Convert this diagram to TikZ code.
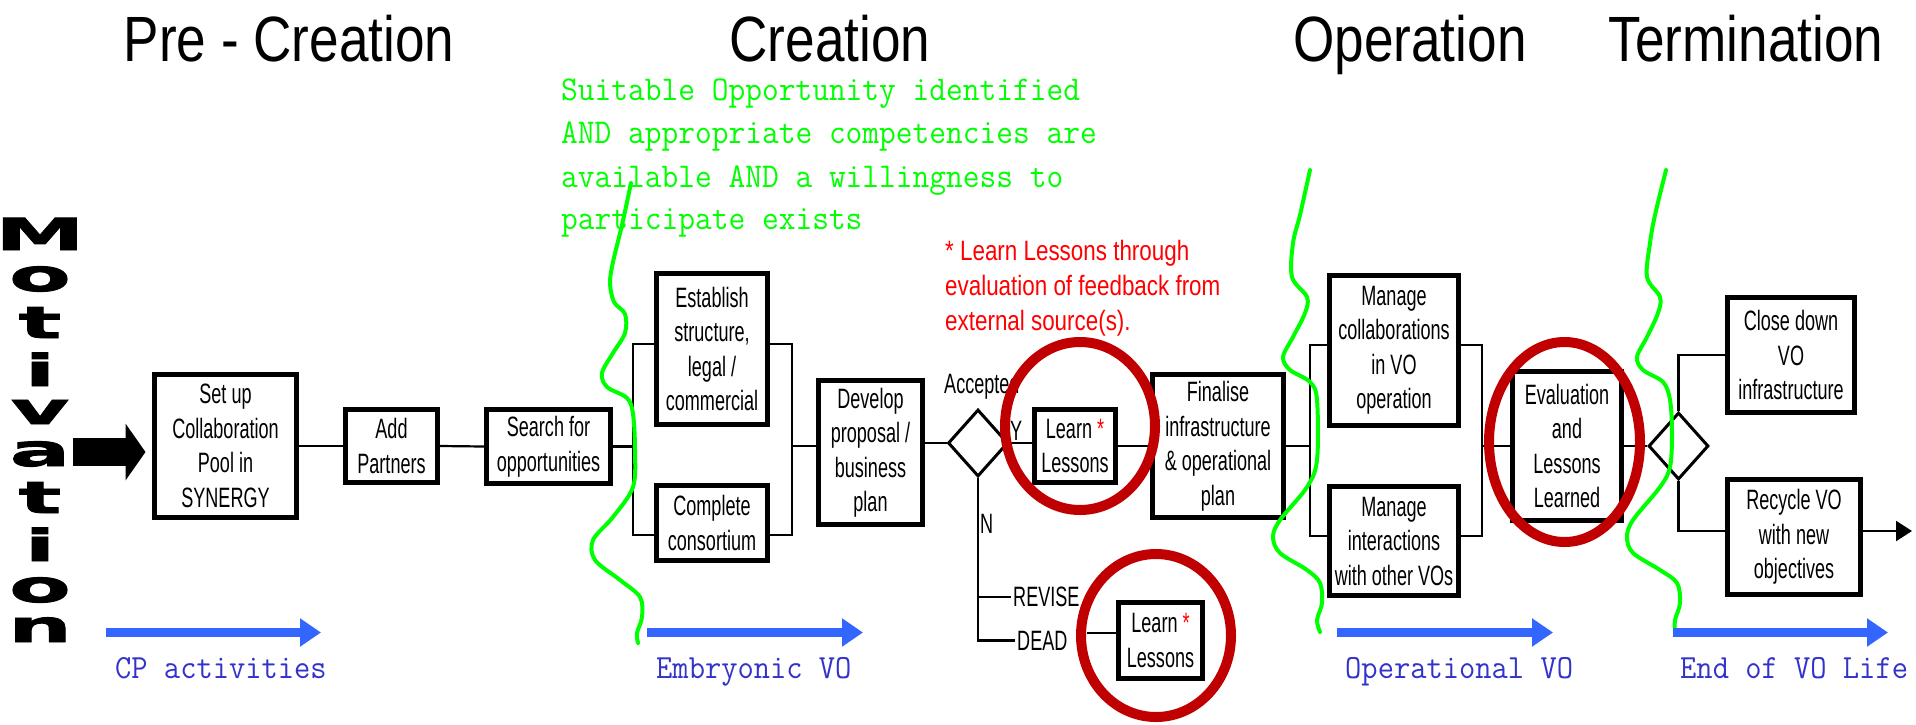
\documentclass[tikz,border=0pt]{standalone}
\usepackage{fontspec}
\usepackage{graphicx}
\usetikzlibrary{arrows.meta,shapes.geometric}

\newfontfamily\boxfont{Liberation Sans}[FakeStretch=0.645]
\newfontfamily\headfont{Liberation Sans}[FakeStretch=0.83]
\newfontfamily\notefont{Liberation Sans}[FakeStretch=0.80]
\newfontfamily\motfont{DejaVu Sans}[FakeStretch=2.05, BoldFeatures={FakeBold=2}]

\definecolor{ringred}{RGB}{192,0,0}
\definecolor{phasegreen}{RGB}{0,255,0}
\definecolor{arrowblue}{RGB}{51,102,255}
\definecolor{labelblue}{RGB}{51,51,204}

\newcommand{\tallmono}[1]{\scalebox{1}[1.07]{#1}}

\tikzset{
  stage/.style={draw, line width=5pt, inner sep=0pt, align=center,
    font=\boxfont\fontsize{28}{34.5}\selectfont},
  lbl/.style={inner sep=2pt, font=\boxfont\fontsize{28}{34.5}\selectfont},
  head/.style={inner sep=0pt, font=\headfont\fontsize{64}{70}\selectfont},
  note/.style={inner sep=0pt, text=red, font=\notefont\fontsize{28}{35}\selectfont},
  cond/.style={inner sep=0pt, text=phasegreen, font=\ttfamily\fontsize{32.5}{43}\selectfont},
  phaselbl/.style={inner sep=0pt, text=labelblue, font=\ttfamily\fontsize{31.6}{43}\selectfont},
  motletter/.style={inner sep=0pt, anchor=base, font=\motfont\bfseries\fontsize{44}{44}\selectfont},
  link/.style={line width=2.2pt},
  gate/.style={draw, diamond, line width=3pt, inner sep=0pt, minimum width=60pt, minimum height=67pt},
  ring/.style={draw=ringred, line width=10pt, ellipse, inner sep=0pt},
  divider/.style={draw=phasegreen, line width=4pt, line cap=round, line join=round},
  phasearrow/.style={draw=arrowblue, line width=9pt, -{Triangle[length=21pt,width=27pt]}},
}

\begin{document}
\begin{tikzpicture}[x=1pt, y=-1pt]
\fill[white] (0,0) rectangle (1916,724);
\useasboundingbox (0,0) rectangle (1916,724);

% phase titles
\node[head, anchor=base] (tpre) at (289,61) {Pre - Creation};
\node[head, anchor=base] (tcre) at (830,61) {Creation};
\node[head, anchor=base] (tope) at (1410,61) {Operation};
\node[head, anchor=base] (tter) at (1746,61) {Termination};

% entry condition
\node[cond, anchor=base west] (cond1) at (561,100) {\tallmono{Suitable Opportunity identified}};
\node[cond, anchor=base west] (cond2) at (561,143) {\tallmono{AND appropriate competencies are}};
\node[cond, anchor=base west] (cond3) at (561,187) {\tallmono{available AND a willingness to}};
\node[cond, anchor=base west] (cond4) at (561,229) {\tallmono{participate exists}};

% footnote on lessons learned
\node[note, anchor=base west] (note1) at (945,260) {* Learn Lessons through};
\node[note, anchor=base west] (note2) at (945,295) {evaluation of feedback from};
\node[note, anchor=base west] (note3) at (945,330) {external source(s).};

% vertical "Motivation"
\node[motletter] (m1) at (40,250) {M};
\node[motletter] (m2) at (40,291) {o};
\node[motletter] (m3) at (40,338) {t};
\node[motletter] (m4) at (40,386) {i};
\node[motletter] (m5) at (40,424) {v};
\node[motletter] (m6) at (40,466) {a};
\node[motletter] (m7) at (40,513) {t};
\node[motletter] (m8) at (40,561) {i};
\node[motletter] (m9) at (40,602) {o};
\node[motletter] (m10) at (40,642) {n};

% process steps
\node[stage, minimum width=142pt, minimum height=143pt] (setup) at (225.5,446) {Set up\\Collaboration\\Pool in\\SYNERGY};
\node[stage, minimum width=92pt, minimum height=73pt] (add) at (391.5,446) {Add\\Partners};
\node[stage, minimum width=124pt, minimum height=74pt] (search) at (548.5,446.5) {Search for\\opportunities};
\node[stage, minimum width=111pt, minimum height=151pt] (establish) at (712,349) {Establish\\structure,\\legal /\\commercial};
\node[stage, minimum width=111pt, minimum height=75pt] (complete) at (712,523) {Complete\\consortium};
\node[stage, minimum width=104pt, minimum height=144pt] (develop) at (870.5,452.5) {Develop\\proposal /\\business\\plan};
\node[gate] (d1) at (978,443) {};
\node[stage, minimum width=81pt, minimum height=73pt] (learn1) at (1075,446) {Learn {\color{red}*}\\Lessons};
\node[stage, minimum width=84pt, minimum height=76pt] (learn2) at (1160.5,640.5) {Learn {\color{red}*}\\Lessons};
\node[stage, minimum width=131pt, minimum height=143pt] (finalise) at (1218,446) {Finalise\\infrastructure\\\& operational\\plan};
\node[stage, minimum width=129pt, minimum height=150pt] (mcollab) at (1394,350.5) {Manage\\collaborations\\in VO\\operation};
\node[stage, minimum width=129pt, minimum height=109pt] (minter) at (1394,541) {Manage\\interactions\\with other VOs};
\node[stage, minimum width=109pt, minimum height=149pt] (evaluation) at (1567,446) {Evaluation\\and\\Lessons\\Learned};
\node[gate] (d2) at (1678.5,446) {};
\node[stage, minimum width=127pt, minimum height=115pt] (close) at (1791,355) {Close down\\VO\\infrastructure};
\node[stage, minimum width=133pt, minimum height=115pt] (recycle) at (1794,537) {Recycle VO\\with new\\objectives};

% decision labels
\node[lbl, anchor=base west, inner sep=0pt] (acc) at (944,393) {Accepted};
\node[lbl, anchor=base west, inner sep=0pt] (ylbl) at (1010,440) {Y};
\node[lbl, anchor=base west, inner sep=0pt] (nlbl) at (980,533) {N};
\node[lbl, anchor=west] (revise) at (1011,597) {REVISE};
\node[lbl, anchor=west] (dead) at (1015,640.5) {DEAD};

% junction points of the parallel branches
\coordinate (jA) at (633,446);  \coordinate (jAt) at (633,344);  \coordinate (jAb) at (633,535);
\coordinate (jB) at (792,446);  \coordinate (jBt) at (792,344);  \coordinate (jBb) at (792,535);
\coordinate (jC) at (1310,446); \coordinate (jCt) at (1310,345); \coordinate (jCb) at (1310,536);
\coordinate (jD) at (1482,446); \coordinate (jDt) at (1482,345); \coordinate (jDb) at (1482,536);
\coordinate (deadlink) at (1087,633);
\coordinate (exit) at (1912,531);
\coordinate (motstart) at (73,452);

% connectors
\draw[line width=28pt, -{Triangle[length=20pt,width=56pt]}, shorten >=6.5pt] (motstart) -- (motstart -| setup.west);
\draw[link] (setup.east) -- (add.west);
\draw[link] (add.east) -- (search.west);
\draw[link] (search.east) -- (search.east -| jA);
\draw[link] (establish.west |- jAt) -- (jAt) -- (jAb) -- (complete.west |- jAb);
\draw[link] (establish.east |- jBt) -- (jBt) -- (jBb) -- (complete.east |- jBb);
\draw[link] (jB) -- (jB -| develop.west);
\draw[link] (develop.east |- d1.west) -- (d1.west);
\draw[link] (d1.east) -- (d1.east -| learn1.west);
\draw[link] (learn1.east) -- (finalise.west);
\draw[link] (d1.south) |- (revise.west);
\draw[link] (d1.south) |- (dead.west);
\draw[link] (deadlink) -- (deadlink -| learn2.west);
\draw[link] (finalise.east) -- (finalise.east -| jC);
\draw[link] (mcollab.west |- jCt) -- (jCt) -- (jCb) -- (minter.west |- jCb);
\draw[link] (mcollab.east |- jDt) -- (jDt) -- (jDb) -- (minter.east |- jDb);
\draw[link] (jD) -- (jD -| evaluation.west);
\draw[link] (evaluation.east) -- (d2.west);
\draw[link] (d2.north) |- (close.west);
\draw[link] (d2.south) |- ([yshift=6pt]recycle.west);
\draw[link, -{Triangle[length=16pt,width=20pt]}] ([yshift=6pt]recycle.east) -- (exit);

% highlighted lessons-learned steps
\node[ring, minimum width=150pt, minimum height=168pt] (ring1) at (1080,426) {};
\node[ring, minimum width=150pt, minimum height=163pt] (ring2) at (1156,635.5) {};
\node[ring, minimum width=151pt, minimum height=200pt] (ring3) at (1564.5,442) {};

% phase boundaries
\draw[divider] plot[smooth, tension=0.55] coordinates {(631,183) (622,225) (613,262) (610,283) (614,302) (625,314) (625,333) (613,353) (602,373) (607,387) (627,398) (633,414) (635,450) (633,487) (613,517) (593,540) (595,560) (620,580) (640,597) (642,617) (637,633) (638,643)};
\draw[divider] plot[smooth, tension=0.55] coordinates {(1310,170) (1300,215) (1293,243) (1292,277) (1307,297) (1305,313) (1293,337) (1283,357) (1290,370) (1310,382) (1317,400) (1317,460) (1307,487) (1280,520) (1273,537) (1280,553) (1307,570) (1320,583) (1322,603) (1317,620) (1320,632)};
\draw[divider] plot[smooth, tension=0.55] coordinates {(1666,170) (1655,215) (1650,243) (1647,277) (1660,297) (1658,313) (1647,337) (1637,357) (1643,370) (1663,382) (1670,400) (1672,433) (1670,467) (1660,487) (1633,520) (1627,537) (1633,553) (1660,570) (1677,583) (1680,603) (1675,620) (1675,632)};

% life-cycle stages
\coordinate (cpa) at (106,632.5);   \coordinate (cpb) at (321,632.5);
\coordinate (emba) at (647,632.5);  \coordinate (embb) at (863,632.5);
\coordinate (opsa) at (1337,632.5); \coordinate (opsb) at (1553,632.5);
\coordinate (enda) at (1673,632.5); \coordinate (endb) at (1888,632.5);
\draw[phasearrow] (cpa) -- (cpb);
\draw[phasearrow] (emba) -- (embb);
\draw[phasearrow] (opsa) -- (opsb);
\draw[phasearrow] (enda) -- (endb);
\node[phaselbl, anchor=base west] (lcp) at (115,678) {\tallmono{CP activities}};
\node[phaselbl, anchor=base west] (lemb) at (656,678) {\tallmono{Embryonic VO}};
\node[phaselbl, anchor=base west] (lops) at (1345,678) {\tallmono{Operational VO}};
\node[phaselbl, anchor=base west] (lend) at (1680,678) {\tallmono{End of VO Life}};
\end{tikzpicture}
\end{document}
